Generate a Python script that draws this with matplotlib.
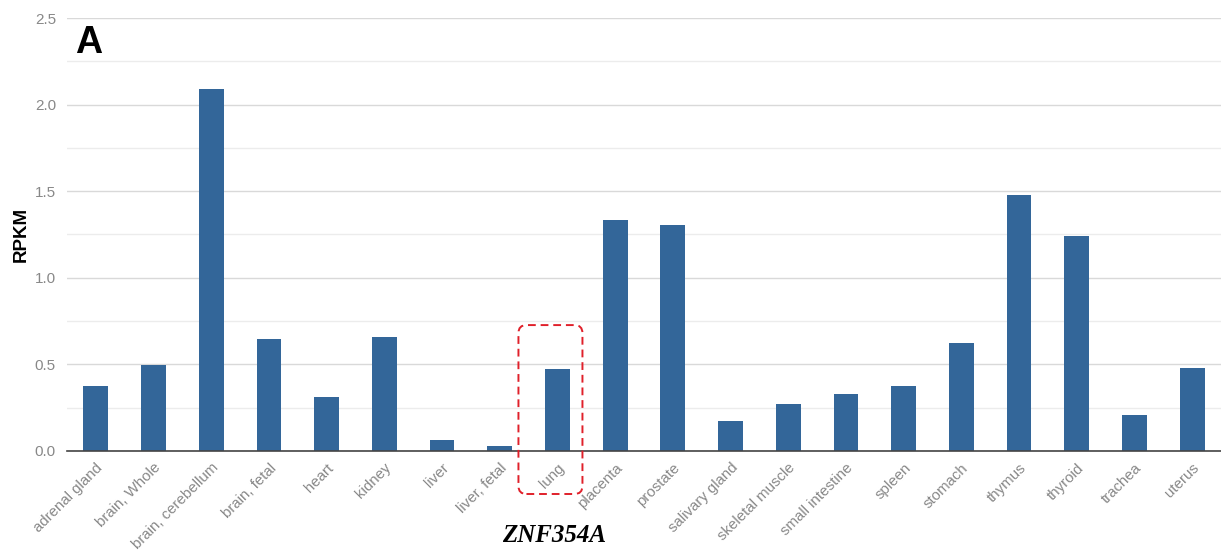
import matplotlib
matplotlib.use("Agg")
import matplotlib.pyplot as plt
from matplotlib.patches import FancyBboxPatch
from matplotlib.ticker import MultipleLocator

tissues = ["adrenal gland", "brain, Whole", "brain, cerebellum", "brain, fetal",
           "heart", "kidney", "liver", "liver, fetal", "lung", "placenta",
           "prostate", "salivary gland", "skeletal muscle", "small intestine",
           "spleen", "stomach", "thymus", "thyroid", "trachea", "uterus"]
rpkm = [0.375, 0.497, 2.09, 0.647, 0.312, 0.658, 0.064, 0.029, 0.473, 1.334,
        1.305, 0.173, 0.27, 0.33, 0.375, 0.624, 1.478, 1.241, 0.208, 0.479]
yticks = [0.0, 0.5, 1.0, 1.5, 2.0, 2.5]
gene = "ZNF354A"
highlight = "lung"

plt.rcParams["font.family"] = ["Liberation Sans", "DejaVu Sans"]

W, H, DPI = 1221, 550, 100
fig = plt.figure(figsize=(W / DPI, H / DPI), dpi=DPI)
ax = fig.add_axes([67 / W, (H - 451) / H, (W - 67) / W, (451 - 18) / H])

x = list(range(len(tissues)))
ax.bar(x, rpkm, width=0.43, color="#336699", zorder=3)

ax.set_xlim(-0.5, len(tissues) - 0.5)
ax.set_ylim(0, 2.5)
ax.set_yticks(yticks)
ax.set_yticklabels([f"{v:.1f}" for v in yticks])
ax.yaxis.set_minor_locator(MultipleLocator(0.25))
ax.grid(axis="y", which="major", color="#d9d9d9", linewidth=1.0, zorder=0)
ax.grid(axis="y", which="minor", color="#ececec", linewidth=1.0, zorder=0)

for side in ("top", "right", "left"):
    ax.spines[side].set_visible(False)
ax.spines["bottom"].set_color("#444444")
ax.spines["bottom"].set_linewidth(1.2)
ax.spines["bottom"].set_zorder(4)

ax.tick_params(axis="y", which="both", length=0, pad=8, labelsize=11,
               labelcolor="#888888")
ax.tick_params(axis="x", length=0, pad=7, labelsize=10.8, labelcolor="#888888")
ax.set_xticks(x)
ax.set_xticklabels(tissues, rotation=45, ha="right", rotation_mode="anchor")

fig.text(21 / W, 1 - 234 / H, "RPKM", fontsize=13.5, fontweight="bold",
         rotation=90, ha="center", va="center")

fig.text(75 / W, 1 - 43 / H, "A", fontsize=27, fontweight="bold",
         va="center", ha="left", color="black")

fig.text(554 / W, 1 - 536 / H, gene, fontsize=18, fontweight="bold",
         style="italic", family=["Liberation Serif", "DejaVu Serif"],
         ha="center", va="center")

# dashed rounded frame around the highlighted tissue
fig.canvas.draw()
i = tissues.index(highlight)
cx, y0 = ax.transData.transform((i, 0))
cx -= 7
half = 32
top = ax.transData.transform((i, 0.727))[1]
bottom = y0 - 43
rad = 8
frame = FancyBboxPatch((cx - half + rad, bottom + rad), 2 * half - 2 * rad,
                       (top - bottom) - 2 * rad,
                       boxstyle=f"round,pad={rad}", transform=None,
                       fill=False, edgecolor="#e0202a", linewidth=1.4,
                       linestyle=(0, (4, 2.5)), clip_on=False, zorder=5)
fig.patches.append(frame)

fig.savefig("out.png", dpi=DPI)
